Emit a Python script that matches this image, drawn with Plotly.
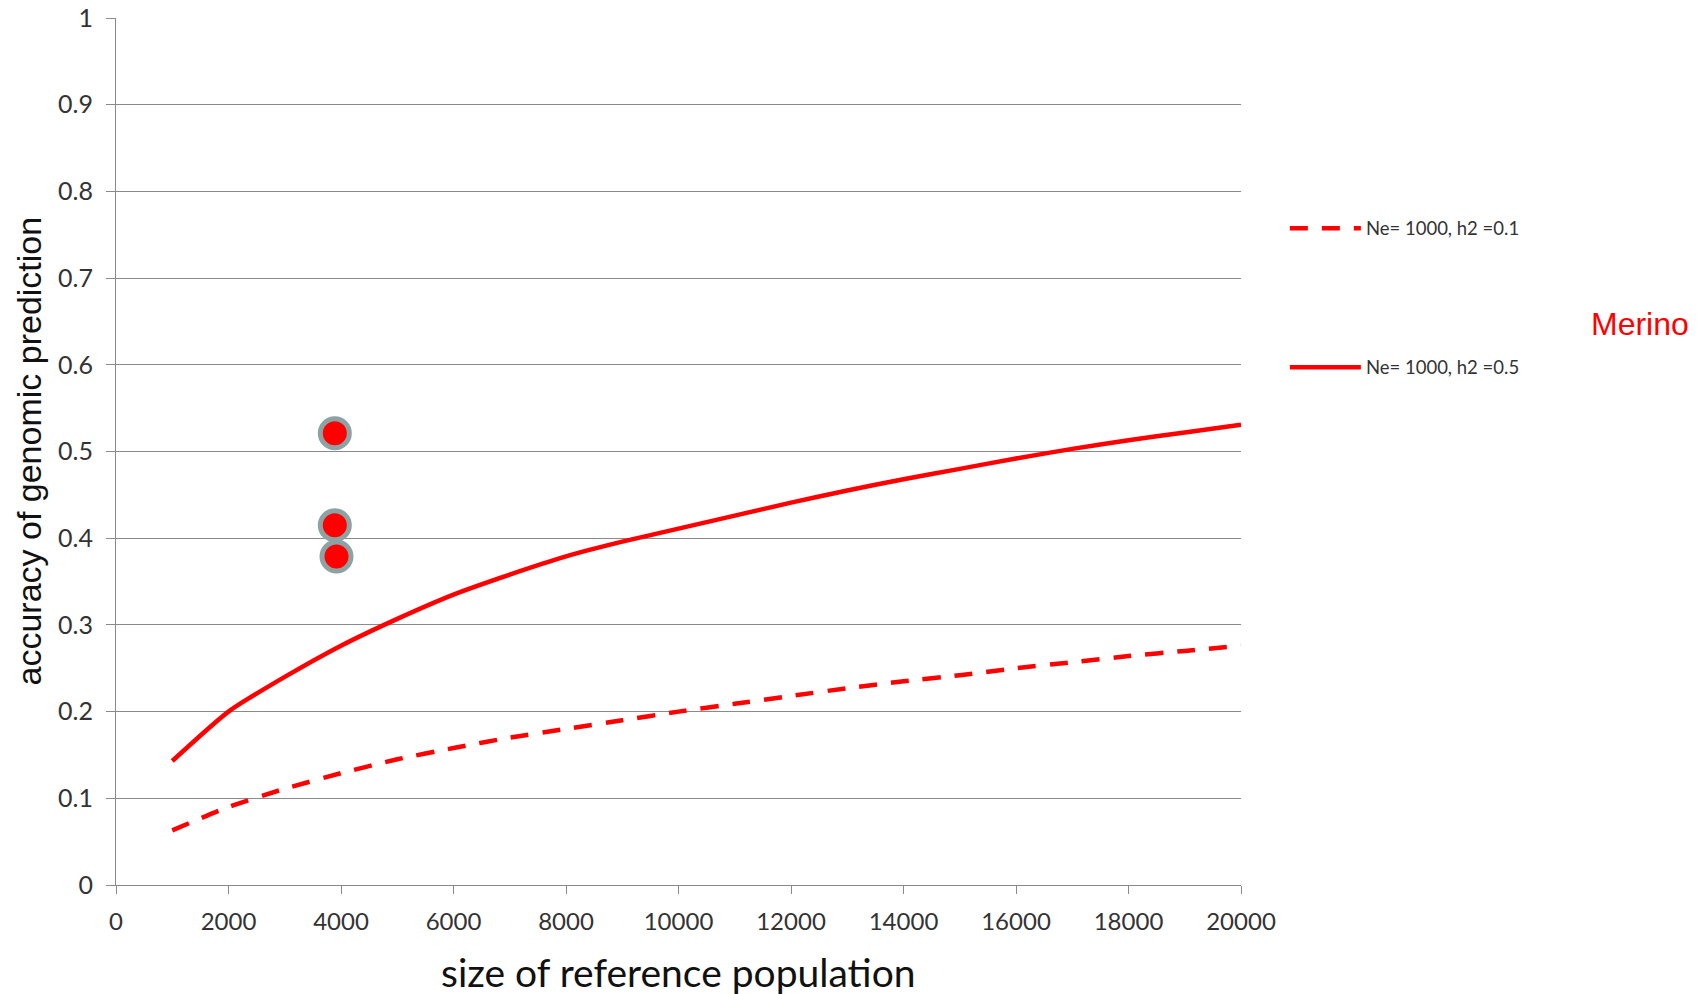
import plotly.graph_objects as go

# Reference population sizes (x) and predicted accuracy curves
ref_size = [1000, 2000, 3000, 4000, 5000, 6000, 7000, 8000, 9000, 10000,
            11000, 12000, 13000, 14000, 15000, 16000, 17000, 18000, 19000, 20000]
acc_h2_01 = [0.063, 0.090, 0.111, 0.129, 0.145, 0.158, 0.170, 0.180, 0.190, 0.200,
             0.209, 0.218, 0.227, 0.235, 0.242, 0.250, 0.257, 0.264, 0.270, 0.276]
acc_h2_05 = [0.143, 0.200, 0.240, 0.276, 0.307, 0.335, 0.358, 0.379, 0.396, 0.411,
             0.426, 0.441, 0.455, 0.468, 0.480, 0.492, 0.503, 0.513, 0.522, 0.531]

# Observed accuracies (Merino)
obs_size = [3890, 3890, 3920]
obs_acc = [0.521, 0.415, 0.379]

RED = "#FF0000"
GRID = "#8A8A8A"
TXT = "#333333"

fig = go.Figure()

fig.add_trace(go.Scatter(
    x=ref_size, y=acc_h2_01, mode="lines", name="Ne= 1000, h2 =0.1",
    legendgroup="a",
    line=dict(color=RED, width=4.5, dash="18px,14px", shape="spline", smoothing=0.6),
))
fig.add_trace(go.Scatter(
    x=ref_size, y=acc_h2_05, mode="lines", name="Ne= 1000, h2 =0.5",
    legendgroup="b",
    line=dict(color=RED, width=4.5, shape="spline", smoothing=0.6),
))
fig.add_trace(go.Scatter(
    x=obs_size, y=obs_acc, mode="markers", showlegend=False,
    marker=dict(color=RED, size=29, line=dict(color="#8DA2A3", width=5)),
))

fig.update_layout(
    width=1702, height=994, autosize=False,
    margin=dict(l=116, r=461, t=18, b=109, pad=0, autoexpand=False),
    paper_bgcolor="white", plot_bgcolor="white",
    font=dict(family="Lato", color=TXT),
    legend=dict(
        x=1.039, y=0.779, xanchor="left", yanchor="top",
        itemwidth=71, tracegroupgap=112,
        font=dict(family="Lato", size=18.5, color=TXT),
        bgcolor="rgba(0,0,0,0)",
    ),
    xaxis=dict(
        range=[0, 20000], dtick=2000, tick0=0, tickformat="d",
        showline=True, linecolor=GRID, linewidth=1,
        ticks="outside", ticklen=8, tickcolor=GRID, tickwidth=1,
        showgrid=False, zeroline=False, automargin=False,
        tickfont=dict(family="Lato", size=24, color=TXT),
        ticklabelstandoff=7,
    ),
    yaxis=dict(
        range=[0, 1], dtick=0.1, tick0=0,
        showline=True, linecolor=GRID, linewidth=1,
        ticks="outside", ticklen=9, tickcolor=GRID, tickwidth=1,
        showgrid=True, gridcolor=GRID, gridwidth=1, zeroline=False,
        automargin=False,
        tickfont=dict(family="Lato", size=25, color=TXT),
        ticklabelstandoff=8,
    ),
    annotations=[
        dict(text="size of reference population", xref="paper", yref="paper",
             x=0.5, y=0, yshift=-87, xanchor="center", yanchor="middle",
             showarrow=False, font=dict(family="Lato", size=39, color="#111111")),
        dict(text="accuracy of genomic prediction", xref="paper", yref="paper",
             x=0, y=0.5, xshift=-88, xanchor="center", yanchor="middle",
             textangle=-90, showarrow=False,
             font=dict(family="Liberation Sans", size=34, color="#111111")),
        dict(text="Merino", xref="paper", yref="paper",
             x=1.3547, y=0.647, xanchor="center", yanchor="middle",
             showarrow=False, font=dict(family="Liberation Sans", size=32, color=RED)),
    ],
)

fig.write_html("out.html")
